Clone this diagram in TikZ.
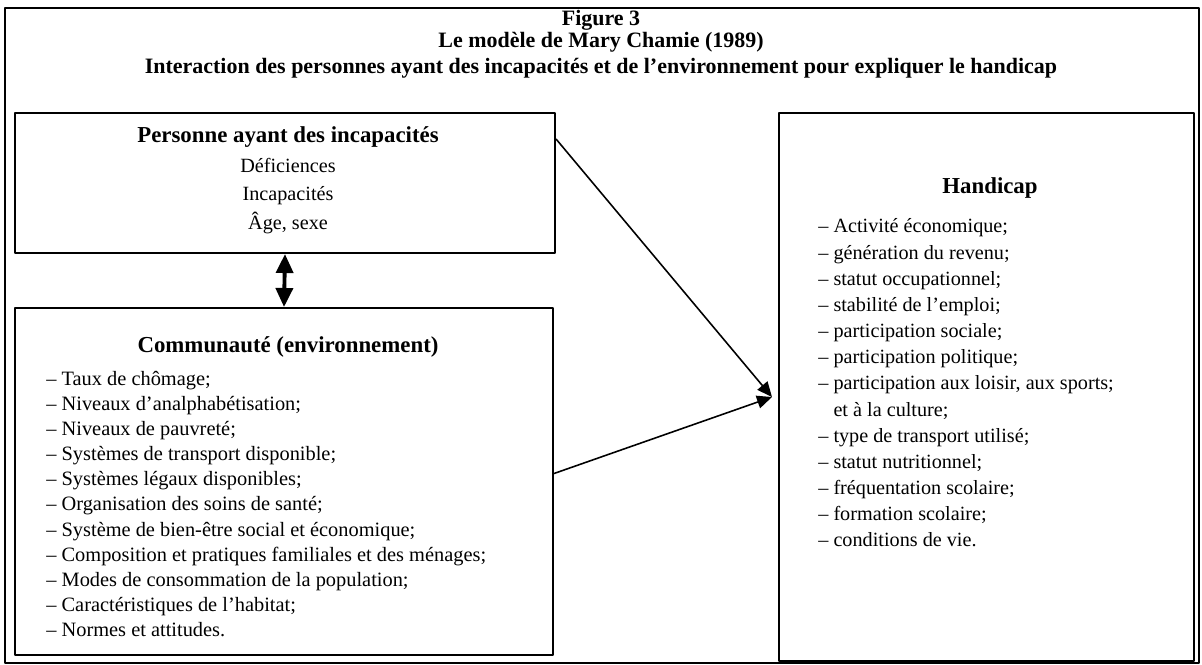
\documentclass[tikz,border=0pt]{standalone}
\usepackage{fontspec}
\setmainfont{Liberation Serif}
\usetikzlibrary{arrows.meta,calc}

\begin{document}
\begin{tikzpicture}[x=0.02cm, y=-0.02cm, line join=round, >={Triangle[length=0.3cm,width=0.26cm]},
    boite/.style={draw, line width=1.2pt, inner sep=0pt},
    titre/.style={font=\fontsize{12.5}{15}\selectfont\bfseries},
    entete/.style={font=\fontsize{13}{15}\selectfont\bfseries},
    liste/.style={align=left, inner sep=0pt}]
    \useasboundingbox (0,0) rectangle (1202,664);
    \draw[line width=1pt] (5,8) rectangle (1199,663); %cadre
    \node[titre] (fig) at (601,20) {Figure 3};
    \node[titre] (modele) at (601,42) {Le modèle de Mary Chamie (1989)};
    \node[titre] (inter) at (601,68) {Interaction des personnes ayant des incapacités et de l'environnement pour expliquer le handicap};
    % les trois boites
    \node[boite, minimum width=10.8cm, minimum height=2.8cm] (personne) at (285,183) {};
    \node[boite, minimum width=10.76cm, minimum height=6.94cm] (communaute) at (284,481.5) {};
    \node[boite, minimum width=8.3cm, minimum height=10.96cm] (handicap) at (986.5,387) {};
    % textes
    \node[entete] (tpers) at (288,137) {Personne ayant des incapacités};
    \node[align=center, inner sep=0pt, font=\fontsize{11.5}{16.2}\selectfont] (lpers) at (288,196)
        {Déficiences\\Incapacités\\Âge, sexe};
    \node[entete] (tcomm) at (288,347) {Communauté (environnement)};
    \node[liste, anchor=west, font=\fontsize{11.6}{14.3}\selectfont] (lcomm) at (46,504)
        {-- Taux de chômage;\\
         -- Niveaux d'analphabétisation;\\
         -- Niveaux de pauvreté;\\
         -- Systèmes de transport disponible;\\
         -- Systèmes légaux disponibles;\\
         -- Organisation des soins de santé;\\
         -- Système de bien-être social et économique;\\
         -- Composition et pratiques familiales et des ménages;\\
         -- Modes de consommation de la population;\\
         -- Caractéristiques de l'habitat;\\
         -- Normes et attitudes.};
    \node[entete] (thand) at (990,188) {Handicap};
    \node[liste, anchor=west, font=\fontsize{11.5}{14.9}\selectfont] (lhand) at (818,383)
        {-- Activité économique;\\
         -- génération du revenu;\\
         -- statut occupationnel;\\
         -- stabilité de l'emploi;\\
         -- participation sociale;\\
         -- participation politique;\\
         -- participation aux loisir, aux sports;\\
         \phantom{-- }et à la culture;\\
         -- type de transport utilisé;\\
         -- statut nutritionnel;\\
         -- fréquentation scolaire;\\
         -- formation scolaire;\\
         -- conditions de vie.};
    % fleches
    \draw[{Triangle[length=0.38cm,width=0.34cm]}-{Triangle[length=0.38cm,width=0.34cm]}, line width=2.2pt] (personne.south) -- (communaute.north);
    \coordinate (pointe) at ($(handicap.west)+(-6,10)$);
    \draw[->, line width=0.9pt] ($(personne.north east)!0.19!(personne.south east)$) -- (pointe);
    \draw[->, line width=0.9pt] ($(communaute.east)+(0,-8)$) -- (pointe);
\end{tikzpicture}
\end{document}
